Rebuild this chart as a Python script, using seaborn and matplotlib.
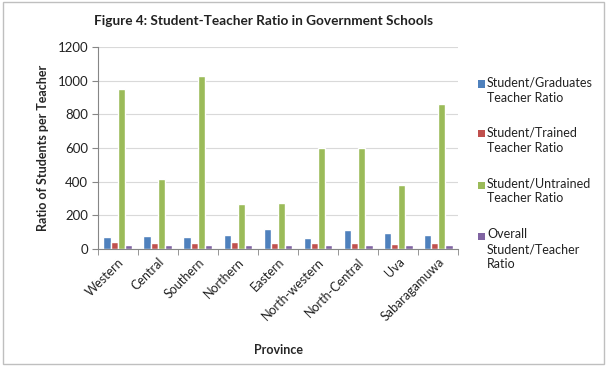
import matplotlib
matplotlib.use("Agg")
import matplotlib.pyplot as plt
import seaborn as sns
import pandas as pd
import numpy as np
from matplotlib.patches import Rectangle

provinces = ["Western", "Central", "Southern", "Northern", "Eastern",
             "North-western", "North-Central", "Uva", "Sabaragamuwa"]
graduates = [71, 77, 70, 80, 119, 65, 111, 95, 83]
trained = [40, 32, 32, 40, 36, 32, 32, 31, 32]
untrained = [950, 415, 1025, 268, 275, 597, 600, 378, 860]
overall = [26, 22, 22, 25, 25, 22, 25, 22, 22]
series = ["Student/Graduates\nTeacher Ratio", "Student/Trained\nTeacher Ratio",
          "Student/Untrained\nTeacher Ratio", "Overall\nStudent/Teacher\nRatio"]
colors = ["#4F81BD", "#C0504D", "#9BBB59", "#8064A2"]
yticks = [0, 200, 400, 600, 800, 1000, 1200]

rows = []
for vals, s in zip([graduates, trained, untrained, overall], series):
    for p, v in zip(provinces, vals):
        rows.append({"Province": p, "Series": s, "Value": v})
df = pd.DataFrame(rows)

sns.set_style("white")
plt.rcParams["font.family"] = ["Lato", "DejaVu Sans"]
plt.rcParams["text.color"] = "#222222"

fig = plt.figure(figsize=(6.07, 3.66), dpi=100)
ax = fig.add_axes([0.161, 0.320, 0.594, 0.552])
sns.barplot(data=df, x="Province", y="Value", hue="Series", palette=colors,
            width=0.72, gap=0, ax=ax, legend=False, saturation=1)

ax.set_ylim(0, 1200)
ax.set_yticks(yticks)
ax.set_xlim(-0.5, len(provinces) - 0.5)
ax.yaxis.grid(True, color="#D9D9D9", linewidth=0.8)
ax.set_axisbelow(True)
for sp in ["top", "right"]:
    ax.spines[sp].set_visible(False)
for sp in ["left", "bottom"]:
    ax.spines[sp].set_color("#868686")
    ax.spines[sp].set_linewidth(0.8)
ax.tick_params(axis="y", labelsize=9.5, length=4, color="#868686", left=True, pad=3,
               labelcolor="#222222")
ax.tick_params(axis="x", labelsize=9, length=0, pad=5, labelcolor="#222222")
ax.set_xticks(np.arange(-0.5, len(provinces), 1), minor=True)
ax.tick_params(axis="x", which="minor", length=4, color="#868686", bottom=True)
plt.setp(ax.get_xticklabels(), rotation=45, ha="right", rotation_mode="anchor")

ax.set_xlabel("Province", fontsize=9, fontweight="bold", labelpad=15)
ax.set_ylabel("Ratio of Students per Teacher", fontsize=9, fontweight="bold", labelpad=6)

fig.text(264 / 607, 0.943, "Figure 4: Student-Teacher Ratio in Government Schools",
         ha="center", va="center", fontsize=9.8, fontweight="bold")

# legend (manual layout: swatch aligned with first line of each label)
leg_y = [84, 134, 185, 236]
for s, c, yy in zip(series, colors, leg_y):
    yf = 1 - yy / 366
    fig.patches.append(Rectangle((478 / 607, yf - 3.5 / 366), 7 / 607, 7 / 366,
                                 transform=fig.transFigure, facecolor=c, edgecolor="none"))
    fig.text(487 / 607, yf + 7.5 / 366, s, ha="left", va="top", fontsize=9,
             linespacing=1.3)

fig.patches.append(Rectangle((0.005, 0.005), 0.99, 0.99, transform=fig.transFigure,
                             fill=False, edgecolor="#BFBFBF", linewidth=1))

fig.savefig("out.png", dpi=100)
